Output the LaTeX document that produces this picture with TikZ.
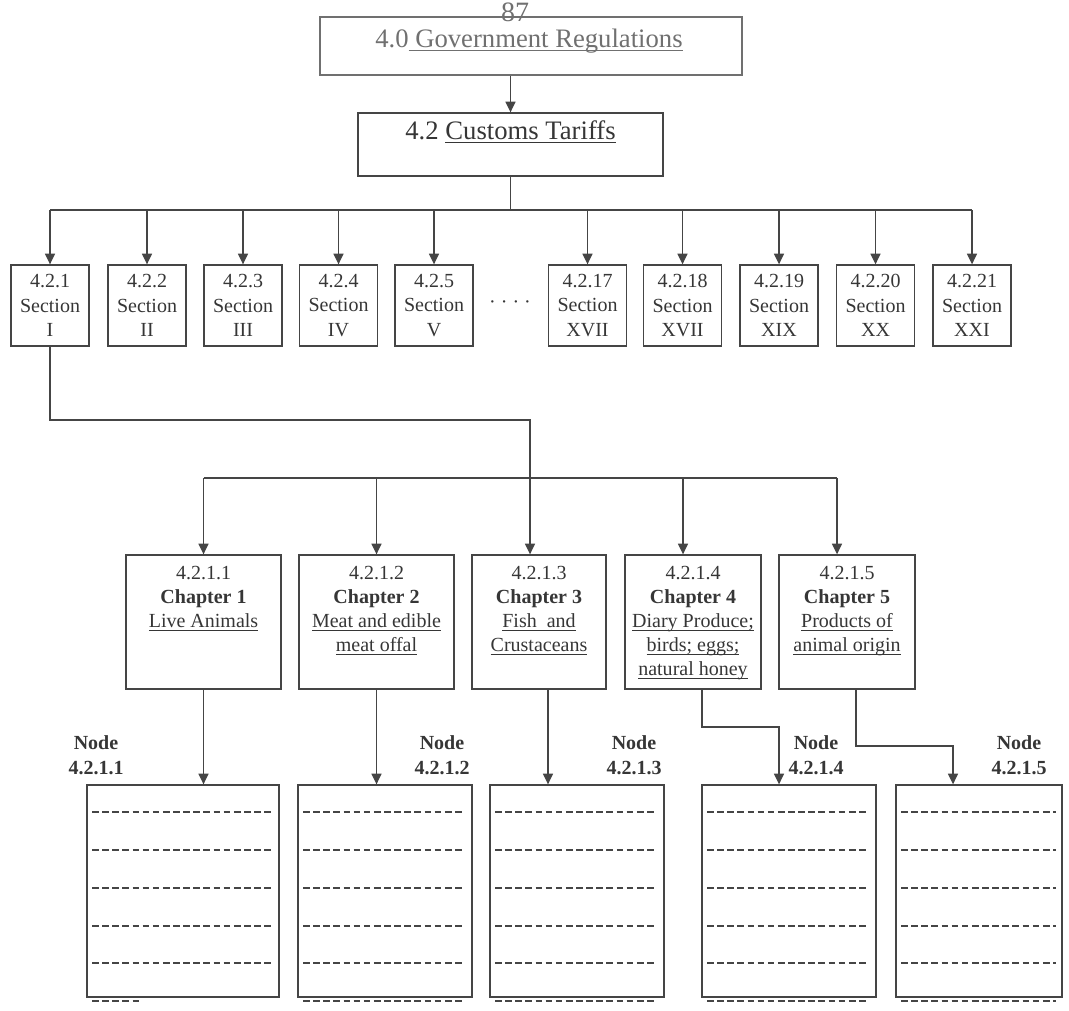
\documentclass[tikz,border=0pt]{standalone}
\usepackage{fontspec}
\setmainfont{Liberation Serif}
\usetikzlibrary{arrows.meta}
\definecolor{ink}{HTML}{363636}
\definecolor{linec}{HTML}{454545}
\definecolor{pale}{HTML}{707070}

% underline at a fixed depth below the baseline
\newcommand\ulx[1]{\setbox0\hbox{#1}\rlap{\vrule width\wd0 height -1.7pt depth 2.4pt}\box0}

% dashed writing lines inside a leaf box, plus the one just under it
\newcommand\leafrules[3]{%
  \foreach \yy in {812,850,888,926,963}{\draw[rule] (#1,\yy) -- (#2,\yy);}
  \draw[rule] (#1,1001) -- (#3,1001);}

\begin{document}
\begin{tikzpicture}[x=0.75pt,y=-0.75pt,
  every node/.style={text=ink, inner sep=0pt},
  frame/.style={draw=linec, line width=1pt},
  wire/.style={draw=linec, line width=1pt},
  arr/.style={wire, -{Triangle[length=8pt,width=7.5pt]}},
  secbox/.style={frame, minimum width=58.5pt, minimum height=60.75pt,
    align=center, font=\fontsize{15}{18.5}\selectfont},
  chapbox/.style={frame, minimum height=100.5pt},
  chaptext/.style={anchor=north, align=center, font=\fontsize{15}{18}\selectfont},
  leaf/.style={frame, minimum height=159pt},
  rule/.style={draw=linec, line width=1.3pt, dash pattern=on 5pt off 2.6pt},
  nodetag/.style={align=center, font=\bfseries\fontsize{15}{19}\selectfont}
]
\useasboundingbox (0,0) rectangle (1069,1010);

% ---- top levels ----
\node[frame, draw=pale, minimum width=316.5pt, minimum height=43.5pt] (gov) at (531,46) {};
\node[text=pale, font=\fontsize{20}{20}\selectfont] (govt) at (529,41) {4.0\ulx{ Government Regulations}};
\node[text=pale, font=\fontsize{21}{21}\selectfont] (page) at (515,12) {87};

\node[frame, minimum width=228.75pt, minimum height=47.25pt] (cust) at (510.5,144.5) {};
\node[font=\fontsize{20}{20}\selectfont] (custt) at (510.5,132) {4.2 \ulx{Customs Tariffs}};

\draw[arr] (cust.north |- gov.south) -- (cust.north);

% ---- sections ----
\node[secbox] (s1)  at (50,305.5)    {4.2.1\\Section\\I};
\node[secbox] (s2)  at (147,305.5)   {4.2.2\\Section\\II};
\node[secbox] (s3)  at (243,305.5)   {4.2.3\\Section\\III};
\node[secbox] (s4)  at (338.5,305.5) {4.2.4\\Section\\IV};
\node[secbox] (s5)  at (434,305.5)   {4.2.5\\Section\\V};
\node[font=\fontsize{15}{15}\selectfont] (gap) at (510,305) {· · · ·};
\node[secbox] (s17) at (587.5,305.5) {4.2.17\\Section\\XVII};
\node[secbox] (s18) at (682.5,305.5) {4.2.18\\Section\\XVII};
\node[secbox] (s19) at (779,305.5)   {4.2.19\\Section\\XIX};
\node[secbox] (s20) at (875.5,305.5) {4.2.20\\Section\\XX};
\node[secbox] (s21) at (972,305.5)   {4.2.21\\Section\\XXI};

\coordinate (sf) at (511,210);
\draw[wire] (cust.south) -- (cust.south |- sf);
\draw[wire] (s1.north |- sf) -- (s21.north |- sf);
\foreach \s in {s1,s2,s3,s4,s5,s17,s18,s19,s20,s21}
  \draw[arr] (\s.north |- sf) -- (\s.north);

% ---- chapters ----
\node[chapbox, minimum width=116.25pt] (c1) at (203.5,622) {};
\node[chapbox, minimum width=116.25pt] (c2) at (376.5,622) {};
\node[chapbox, minimum width=100.5pt]  (c3) at (539,622)   {};
\node[chapbox, minimum width=102pt]    (c4) at (693,622)   {};
\node[chapbox, minimum width=102pt]    (c5) at (847,622)   {};

\node[chaptext] (c1t) at (203.5,566) {4.2.1.1\\\textbf{Chapter 1}\\\ulx{Live Animals}};
\node[chaptext] (c2t) at (376.5,566) {4.2.1.2\\\textbf{Chapter 2}\\\ulx{Meat and edible}\\\ulx{meat offal}};
\node[chaptext] (c3t) at (539,566)   {4.2.1.3\\\textbf{Chapter 3}\\\ulx{Fish\ \ and}\\\ulx{Crustaceans}};
\node[chaptext] (c4t) at (693,566)   {4.2.1.4\\\textbf{Chapter 4}\\\ulx{Diary Produce;}\\\ulx{birds; eggs;}\\\ulx{natural honey}};
\node[chaptext] (c5t) at (847,566)   {4.2.1.5\\\textbf{Chapter 5}\\\ulx{Products of}\\\ulx{animal origin}};

% Section I branches down to the chapters
\coordinate (bend) at (530,420);
\draw[arr] (s1.south) |- (bend) -- (bend |- c3.north);

\coordinate (cf) at (0,478);
\coordinate (a4) at (683,0);
\coordinate (a5) at (837,0);
\draw[wire] (c1.north |- cf) -- (a5 |- cf);
\draw[arr] (c1.north |- cf) -- (c1.north);
\draw[arr] (c2.north |- cf) -- (c2.north);
\draw[arr] (a4 |- cf) -- (a4 |- c4.north);
\draw[arr] (a5 |- cf) -- (a5 |- c5.north);

% ---- leaf nodes ----
\node[leaf, minimum width=144pt]   (n1) at (183,891) {};
\node[leaf, minimum width=130.5pt] (n2) at (385,891) {};
\node[leaf, minimum width=130.5pt] (n3) at (577,891) {};
\node[leaf, minimum width=130.5pt] (n4) at (789,891) {};
\node[leaf, minimum width=124.5pt] (n5) at (979,891) {};

\node[nodetag] (t1) at (96,755)   {Node\\4.2.1.1};
\node[nodetag] (t2) at (442,755)  {Node\\4.2.1.2};
\node[nodetag] (t3) at (634,755)  {Node\\4.2.1.3};
\node[nodetag] (t4) at (816,755)  {Node\\4.2.1.4};
\node[nodetag] (t5) at (1019,755) {Node\\4.2.1.5};

\coordinate (o3) at (548,689);
\coordinate (o4) at (702,689);
\coordinate (j4) at (779,727);
\coordinate (o5) at (856,689);
\coordinate (j5) at (953,746);
\draw[arr] (c1.south) -- (c1.south |- n1.north);
\draw[arr] (c2.south) -- (c2.south |- n2.north);
\draw[arr] (o3) -- (o3 |- n3.north);
\draw[arr] (o4) |- (j4) -- (j4 |- n4.north);
\draw[arr] (o5) |- (j5) -- (j5 |- n5.north);

\leafrules{92}{274}{142}
\leafrules{303}{465}{465}
\leafrules{495}{657}{657}
\leafrules{707}{869}{869}
\leafrules{901}{1056}{1056}
\end{tikzpicture}
\end{document}
